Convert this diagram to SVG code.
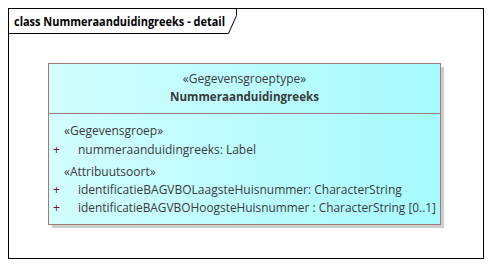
<svg xmlns="http://www.w3.org/2000/svg" width="491" height="267" viewBox="0 0 491 267">
  <style>
    .frame { fill: #ffffff; stroke: #000000; stroke-width: 1; }
    .title { font-family: "Open Sans", "Liberation Sans", sans-serif; font-size: 12px; font-weight: bold; fill: #000000; }
    .cls { stroke: #a07c78; stroke-width: 1; }
    .shadow { fill: #cccccc; }
    .txt { font-family: "Open Sans", "Noto Sans", sans-serif; font-size: 12px; fill: #3a3a3a; }
    .name { font-weight: bold; font-size: 11.6px; }
    .vis { font-family: "Open Sans", "Noto Sans", sans-serif; font-size: 12px; fill: #701030; }
  </style>
  <defs>
    <linearGradient id="clsFill" x1="0" y1="0" x2="1" y2="0">
      <stop offset="0" stop-color="#d2fdfe"/>
      <stop offset="1" stop-color="#a6fafd"/>
    </linearGradient>
  </defs>

  <!-- diagram frame with name tab -->
  <g id="frame">
    <rect class="frame" x="8.5" y="8.5" width="475" height="250"/>
    <path d="M8.5 33.5 H228.5 L236.5 15.5 V8.5" fill="none" stroke="#000000" stroke-width="1"/>
    <text class="title" x="14" y="26" textLength="211" lengthAdjust="spacingAndGlyphs">class Nummeraanduidingreeks - detail</text>
  </g>

  <!-- class node -->
  <g id="Nummeraanduidingreeks">
    <rect class="shadow" x="52" y="67" width="392" height="161"/>
    <rect class="cls" x="48.5" y="63.5" width="392" height="161" fill="url(#clsFill)"/>
    <line class="cls" x1="48.5" y1="113.5" x2="440.5" y2="113.5"/>
    <text class="txt" x="244.5" y="83" text-anchor="middle">«Gegevensgroeptype»</text>
    <text class="txt name" x="244.5" y="101" text-anchor="middle">Nummeraanduidingreeks</text>

    <text class="txt" x="64" y="135">«Gegevensgroep»</text>
    <text class="vis" x="53" y="154">+</text>
    <text class="txt" x="78" y="154">nummeraanduidingreeks: Label</text>

    <text class="txt" x="64" y="176">«Attribuutsoort»</text>
    <text class="vis" x="53" y="194">+</text>
    <text class="txt" x="78" y="194">identificatieBAGVBOLaagsteHuisnummer: CharacterString</text>
    <text class="vis" x="53" y="212">+</text>
    <text class="txt" x="78" y="212" textLength="358" lengthAdjust="spacingAndGlyphs">identificatieBAGVBOHoogsteHuisnummer : CharacterString [0..1]</text>
  </g>
</svg>
